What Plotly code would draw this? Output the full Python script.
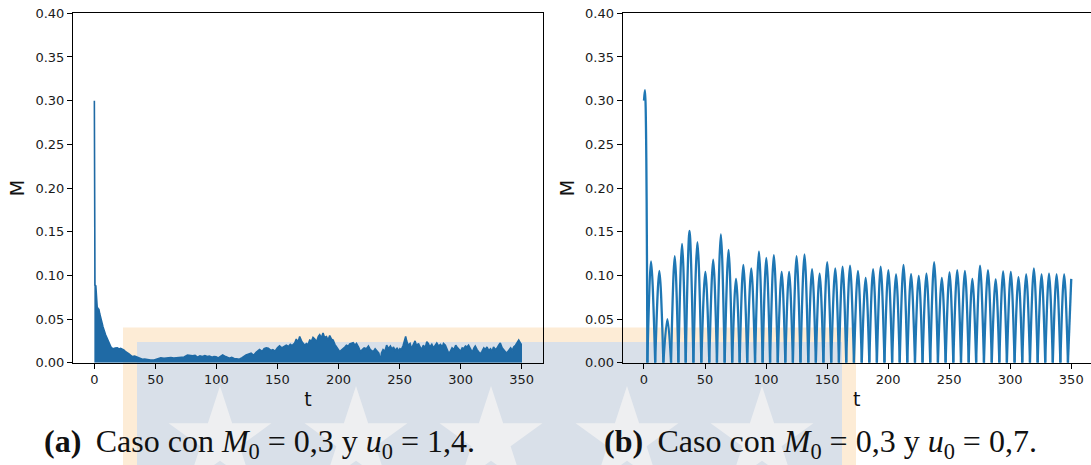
import math
import plotly.graph_objects as go

W, H = 1091, 465

# ---------------- data ----------------
# (a) M0 = 0.3, u0 = 1.4 : upper envelope of the fast oscillation of M(t)
t_a = [0.0, 0.5, 1.2, 1.8, 2.3, 3.0, 3.7, 4.4, 5.1, 5.8, 6.4, 7.1, 7.8, 8.5, 9.2, 10.1,
       11.1, 12.0, 12.7, 13.6, 14.7, 15.8, 17.0, 18.8, 20.2, 21.5, 22.9, 24.3, 25.6, 27.0,
       28.4, 29.8, 31.1, 33.0, 35.2, 37.2, 39.3, 41.2, 43.4, 46.0, 48.9, 51.0, 53.0, 54.4,
       57.0, 59.8, 62.7, 65.0, 66.8, 69.0, 70.9, 73.5, 76.3, 78.5, 80.5, 82.5, 84.5, 86.5,
       88.5, 90.5, 92.5, 94.2, 96.5, 98.0, 99.7, 101.5, 103.5, 105.1, 107.5, 109.0, 110.6,
       112.5, 114.5, 116.5, 118.8, 121.0, 122.5, 124.3, 126.0, 128.4, 130.5, 132.5, 135.3,
       137.5, 139.0, 140.8, 142.5, 144.5, 146.2, 148.0, 150.0, 151.7, 153.5, 155.5, 157.2,
       159.0, 160.5, 162.0, 164.1, 165.4, 166.8, 168.2, 170.0, 172.3, 173.7, 175.0, 176.4,
       178.0, 179.1, 180.5, 182.0, 183.5, 184.6, 186.0, 187.3, 188.5, 190.1, 191.4, 192.8,
       194.2, 195.6, 197.0, 198.3, 200.0, 201.0, 202.4, 204.0, 205.2, 206.5, 208.0, 209.2,
       210.6, 212.0, 213.5, 214.7, 216.5, 218.0, 219.5, 221.0, 222.9, 224.5, 226.0, 228.4,
       230.0, 231.5, 233.0, 234.4, 235.2, 236.5, 238.0, 239.4, 241.0, 242.5, 244.0, 244.9,
       246.5, 248.0, 249.0, 250.3, 251.5, 253.0, 254.2, 255.0, 255.8, 257.0, 258.6, 259.8,
       261.0, 262.7, 264.0, 265.5, 266.8, 268.0, 269.5, 271.0, 272.3, 273.5, 274.8, 276.4,
       277.8, 279.0, 280.5, 282.0, 283.5, 285.0, 286.0, 287.5, 289.0, 290.2, 291.5, 293.0,
       294.5, 296.0, 297.0, 298.5, 300.0, 301.3, 302.4, 304.0, 305.2, 306.5, 308.0, 309.5,
       311.0, 312.0, 313.5, 314.8, 316.1, 317.5, 319.0, 320.2, 321.6, 323.0, 324.5, 325.8,
       327.0, 328.5, 330.0, 331.2, 332.5, 334.0, 335.5, 337.0, 338.0, 339.5, 341.0, 342.3,
       343.5, 345.0, 346.3, 347.6, 348.8, 349.5, 350.3]
M_a = [0.300, 0.089, 0.088, 0.066, 0.064, 0.062, 0.061, 0.056, 0.053, 0.049, 0.045, 0.041,
       0.037, 0.034, 0.032, 0.029, 0.026, 0.022, 0.020, 0.018, 0.0165, 0.016, 0.0168, 0.017,
       0.0158, 0.0165, 0.0155, 0.0145, 0.0125, 0.0107, 0.0100, 0.0085, 0.0070, 0.0075,
       0.0064, 0.0058, 0.0040, 0.0042, 0.0034, 0.0030, 0.0030, 0.0042, 0.0050, 0.0057,
       0.0050, 0.0058, 0.0060, 0.0054, 0.0057, 0.0062, 0.0057, 0.0066, 0.0087, 0.0082,
       0.0078, 0.0085, 0.0064, 0.0078, 0.0072, 0.0080, 0.0070, 0.0076, 0.0062, 0.0070,
       0.0068, 0.0055, 0.0072, 0.0088, 0.0070, 0.0058, 0.0050, 0.0062, 0.0048, 0.0044,
       0.0040, 0.0058, 0.0075, 0.0088, 0.0098, 0.0110, 0.0085, 0.0120, 0.0150, 0.0130,
       0.0160, 0.0170, 0.0165, 0.0140, 0.0150, 0.0132, 0.0170, 0.0194, 0.0170, 0.0185,
       0.0200, 0.0185, 0.0210, 0.0195, 0.0225, 0.0270, 0.0235, 0.0300, 0.0240, 0.0200,
       0.0220, 0.0205, 0.0260, 0.0250, 0.0290, 0.0270, 0.0240, 0.0300, 0.0320, 0.0285,
       0.0340, 0.0290, 0.0300, 0.0260, 0.0310, 0.0270, 0.0260, 0.0210, 0.0180, 0.0150,
       0.0126, 0.0145, 0.0160, 0.0180, 0.0200, 0.0190, 0.0215, 0.0225, 0.0230, 0.0200,
       0.0220, 0.0175, 0.0126, 0.0150, 0.0170, 0.0160, 0.0190, 0.0150, 0.0126, 0.0160,
       0.0130, 0.0110, 0.0020, 0.0110, 0.0150, 0.0130, 0.0200, 0.0160, 0.0190, 0.0150,
       0.0180, 0.0140, 0.0170, 0.0130, 0.0160, 0.0150, 0.0200, 0.0260, 0.0300, 0.0250,
       0.0200, 0.0220, 0.0160, 0.0200, 0.0250, 0.0190, 0.0220, 0.0180, 0.0150, 0.0200,
       0.0170, 0.0240, 0.0220, 0.0180, 0.0210, 0.0170, 0.0200, 0.0225, 0.0190, 0.0210,
       0.0180, 0.0220, 0.0200, 0.0160, 0.0110, 0.0126, 0.0170, 0.0150, 0.0200, 0.0180,
       0.0150, 0.0130, 0.0170, 0.0160, 0.0190, 0.0180, 0.0200, 0.0160, 0.0120, 0.0170,
       0.0190, 0.0150, 0.0120, 0.0100, 0.0130, 0.0170, 0.0150, 0.0180, 0.0140, 0.0160,
       0.0130, 0.0180, 0.0150, 0.0170, 0.0200, 0.0225, 0.0170, 0.0140, 0.0120, 0.0115,
       0.0150, 0.0170, 0.0140, 0.0180, 0.0200, 0.0240, 0.0260, 0.0230, 0.0210, 0.0210]

# (b) M0 = 0.3, u0 = 0.7 : initial transient, then arches between zeros of M(t)
t_b_start = [0.0, 0.8]
M_b_start = [0.300, 0.312]
peak_t = [5.8, 12.6, 19.2, 25.2, 31.2, 37.3, 43.8, 50.3, 56.7, 63.0, 69.3, 75.4, 81.4,
          87.9, 94.2, 100.2, 106.4, 112.8, 118.9, 125.0, 131.5, 137.7, 143.9, 150.1,
          156.7, 162.7, 168.8, 175.3, 181.6, 187.7, 193.9, 200.2, 206.5, 212.6, 218.8,
          225.1, 231.4, 237.7, 244.0, 250.3, 256.6, 262.9, 269.0, 275.3, 281.8, 288.1,
          294.2, 300.5, 306.8, 313.1, 319.4, 325.7, 331.8, 338.0, 344.2]
peak_M = [0.116, 0.105, 0.050, 0.122, 0.136, 0.151, 0.138, 0.104, 0.118, 0.147, 0.129,
          0.096, 0.112, 0.108, 0.127, 0.120, 0.123, 0.104, 0.104, 0.122, 0.124, 0.107,
          0.102, 0.115, 0.108, 0.110, 0.111, 0.105, 0.097, 0.107, 0.110, 0.106, 0.101,
          0.112, 0.1015, 0.0995, 0.102, 0.115, 0.097, 0.1035, 0.106, 0.105, 0.096, 0.111,
          0.106, 0.0955, 0.1045, 0.104, 0.098, 0.101, 0.108, 0.101, 0.102, 0.101, 0.101]
zero_t = [2.8, 9.2, 15.9, 22.2, 28.2, 34.2, 40.5, 47.0, 53.5, 59.8, 66.1, 72.3, 78.4,
          84.6, 91.0, 97.2, 103.3, 109.6, 115.8, 122.0, 128.2, 134.6, 140.8, 147.0,
          153.4, 159.7, 165.7, 172.0, 178.4, 184.6, 190.8, 197.0, 203.3, 209.5, 215.7,
          222.0, 228.2, 234.5, 240.8, 247.1, 253.4, 259.7, 266.0, 272.1, 278.5, 284.9,
          291.1, 297.3, 303.6, 309.9, 316.2, 322.5, 328.7, 334.9, 341.1, 347.3]
t_b_end = 350.0
M_b_end = 0.096

x_ticks = [0, 50, 100, 150, 200, 250, 300, 350]
y_ticks = [0.00, 0.05, 0.10, 0.15, 0.20, 0.25, 0.30, 0.35, 0.40]

SP = "\u00a0"
TH = "\u2009"
caption_a = (f"<b>(a)</b>{SP}{TH}Caso con <i>M</i><sub>0</sub>{SP}={SP}0,3 y "
             f"<i>u</i><sub>0</sub>{SP}={SP}1,4.")
caption_b = (f"<b>(b)</b>{SP}{TH}Caso con <i>M</i><sub>0</sub>{SP}={SP}0,3 y "
             f"<i>u</i><sub>0</sub>{SP}={SP}0,7.")


# ---------------- helpers (pixel -> paper) ----------------
def px(x):
    return x / W


def py(y):
    return 1 - y / H


# series (b): one smooth arch per zero-to-zero interval, meeting in sharp cusps
xb, yb = list(t_b_start) + [zero_t[0]], list(M_b_start) + [0.0]
xb.append(None)
yb.append(None)
for i in range(len(peak_t)):
    xb += [zero_t[i], peak_t[i], zero_t[i + 1], None]
    yb += [0.0, peak_M[i], 0.0, None]
xb += [zero_t[-1], t_b_end]
yb += [0.0, M_b_end]

BLUE = "#1f77b4"
BLUE_DARK = "#1f6aa5"
TICK_FONT = dict(family="DejaVu Sans", size=13, color="#1a1a1a")
TITLE_FONT = dict(family="DejaVu Sans", size=19, color="#111111")

fig = go.Figure()
fig.add_trace(go.Scatter(x=t_a, y=M_a, mode="lines", fill="tozeroy",
                         fillcolor=BLUE_DARK, line=dict(color=BLUE_DARK, width=1.6),
                         xaxis="x", yaxis="y", showlegend=False, hoverinfo="skip"))
fig.add_trace(go.Scatter(x=xb, y=yb, mode="lines", connectgaps=False,
                         line=dict(color=BLUE, width=2.3, shape="spline", smoothing=1),
                         xaxis="x2", yaxis="y2", showlegend=False, hoverinfo="skip"))

scale = (543 - 73) / (367.5 + 17.5)
x2_max = -17.5 + (W - 622.6) / scale

common_x = dict(tickmode="array", tickvals=x_ticks, ticks="outside", ticklen=5,
                tickwidth=1, tickcolor="black", linecolor="black", linewidth=1,
                showline=True, showgrid=False, zeroline=False, tickfont=TICK_FONT,
                automargin=False, title=dict(text="t", font=TITLE_FONT, standoff=6))
common_y = dict(tickmode="array", tickvals=y_ticks, tickformat=".2f", range=[0, 0.4],
                ticks="outside", ticklen=5, tickwidth=1, tickcolor="black",
                linecolor="black", linewidth=1, showline=True, showgrid=False,
                zeroline=False, tickfont=TICK_FONT, automargin=False,
                title=dict(text="M", font=TITLE_FONT, standoff=5))

ydom = [py(362.7), py(13.3)]
fig.update_layout(
    width=W, height=H, template="none",
    margin=dict(l=0, r=0, t=0, b=0, pad=0),
    paper_bgcolor="white", plot_bgcolor="rgba(0,0,0,0)",
    xaxis=dict(common_x, domain=[px(73), px(543)], range=[-17.5, 367.5], mirror=True,
               anchor="y"),
    yaxis=dict(common_y, domain=ydom, mirror=True, anchor="x"),
    xaxis2=dict(common_x, domain=[px(622.6), 1.0], range=[-17.5, x2_max], mirror=True,
                anchor="y2"),
    yaxis2=dict(common_y, domain=ydom, mirror=False, anchor="x2"),
)

# background emblem: framed panel with a row of stars
shapes = [
    dict(type="rect", xref="paper", yref="paper", x0=px(123), x1=px(856), y0=0, y1=py(327.5),
         fillcolor="#fdecd6", line=dict(width=0), layer="below"),
    dict(type="rect", xref="paper", yref="paper", x0=px(137), x1=px(842), y0=0, y1=py(342),
         fillcolor="#d9e0e9", line=dict(width=0), layer="below"),
]
for cx in [220, 356, 491, 627, 762]:
    cy, R = 440, 54
    r = R * 0.382
    pts = []
    for k in range(10):
        ang = -math.pi / 2 + k * math.pi / 5
        rad = R if k % 2 == 0 else r
        pts.append((px(cx + rad * math.cos(ang)), py(cy + rad * math.sin(ang))))
    path = "M " + " L ".join(f"{a:.5f},{b:.5f}" for a, b in pts) + " Z"
    shapes.append(dict(type="path", xref="paper", yref="paper", path=path,
                       fillcolor="#eeeff1", line=dict(width=0), layer="below"))
fig.update_layout(shapes=shapes)

CAP_FONT = dict(family="Liberation Serif", size=32, color="#111111")
fig.add_annotation(x=px(259), y=py(443), xref="paper", yref="paper", text=caption_a,
                   showarrow=False, font=CAP_FONT, xanchor="center", yanchor="middle")
fig.add_annotation(x=px(820), y=py(443), xref="paper", yref="paper", text=caption_b,
                   showarrow=False, font=CAP_FONT, xanchor="center", yanchor="middle")

fig.write_html("out.html")
